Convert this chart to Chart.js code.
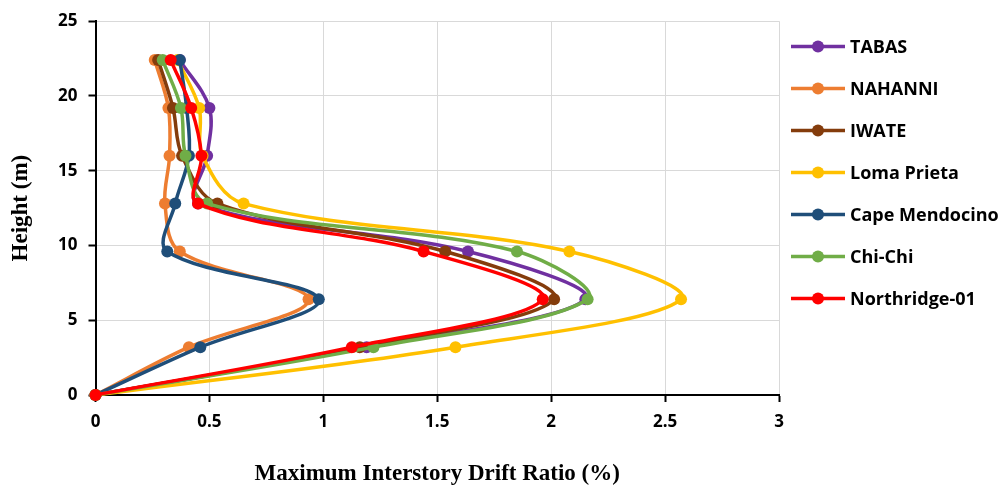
<!DOCTYPE html>
<html>
<head>
<meta charset="utf-8">
<script src="https://cdn.jsdelivr.net/npm/chart.js@4/dist/chart.umd.min.js"></script>
<style>
  html, body { margin: 0; padding: 0; background: #fff; }
  #wrap { width: 998px; height: 485px; }
</style>
</head>
<body>
<div id="wrap"><canvas id="c" width="998" height="485"></canvas></div>
<script>
// ---- data ----
const heights = [0, 3.2, 6.4, 9.6, 12.8, 16, 19.2, 22.4];
const seriesNames = ["TABAS", "NAHANNI", "IWATE", "Loma Prieta", "Cape Mendocino", "Chi-Chi", "Northridge-01"];
const tabas       = [0, 1.19, 2.15, 1.635, 0.45, 0.49, 0.50, 0.37];
const nahanni     = [0, 0.41, 0.935, 0.37, 0.305, 0.325, 0.32, 0.26];
const iwate       = [0, 1.16, 2.013, 1.535, 0.535, 0.38, 0.34, 0.275];
const lomaPrieta  = [0, 1.58, 2.57, 2.08, 0.65, 0.47, 0.455, 0.36];
const capeMendo   = [0, 0.46, 0.98, 0.315, 0.35, 0.41, 0.40, 0.37];
const chiChi      = [0, 1.22, 2.16, 1.85, 0.49, 0.395, 0.375, 0.295];
const northridge  = [0, 1.125, 1.963, 1.44, 0.45, 0.465, 0.42, 0.33];
const xTicks = [0, 0.5, 1, 1.5, 2, 2.5, 3];
const yTicks = [0, 5, 10, 15, 20, 25];

const seriesValues = [tabas, nahanni, iwate, lomaPrieta, capeMendo, chiChi, northridge];
const seriesColors = ["#7030A0", "#ED7D31", "#843C0C", "#FFC000", "#1F4E79", "#70AD47", "#FF0000"];

const datasets = seriesNames.map((name, i) => ({
  label: name,
  data: seriesValues[i].map((v, k) => ({ x: v, y: heights[k] })),
  borderColor: seriesColors[i],
  backgroundColor: seriesColors[i],
  pointBackgroundColor: seriesColors[i],
  pointBorderColor: seriesColors[i],
  pointRadius: 6,
  pointBorderWidth: 0,
  borderWidth: 3.5,
  showLine: true,
  tension: 0.35,
  clip: false,
  order: seriesNames.length - 1 - i
}));

const tickFont = { family: "'Open Sans', sans-serif", size: 17, weight: 'bold' };
const titleFont = { family: "'Liberation Serif', 'Times New Roman', serif", size: 23, weight: 'bold', lineHeight: 1 };

const legendPlugin = {
  id: 'lineLegend',
  afterDraw(chart, args, opts) {
    const ctx = chart.ctx;
    ctx.save();
    chart.data.datasets.forEach((ds, i) => {
      const y = opts.top + i * opts.step;
      ctx.strokeStyle = ds.borderColor;
      ctx.lineWidth = 3.5;
      ctx.beginPath();
      ctx.moveTo(opts.lineX0, y);
      ctx.lineTo(opts.lineX1, y);
      ctx.stroke();
      ctx.fillStyle = ds.borderColor;
      ctx.beginPath();
      ctx.arc((opts.lineX0 + opts.lineX1) / 2, y, 6, 0, Math.PI * 2);
      ctx.fill();
      ctx.fillStyle = '#000';
      ctx.font = "bold 18px 'Open Sans', sans-serif";
      ctx.textBaseline = 'middle';
      ctx.textAlign = 'left';
      ctx.fillText(ds.label, opts.textX, y + 1);
    });
    ctx.restore();
  }
};

new Chart(document.getElementById('c'), {
  type: 'scatter',
  data: { datasets },
  plugins: [legendPlugin],
  options: {
    responsive: false,
    animation: false,
    devicePixelRatio: 1,
    layout: { padding: { left: 0, right: 219, top: 19, bottom: 0 } },
    plugins: {
      legend: { display: false },
      tooltip: { enabled: false },
      lineLegend: { top: 46.5, step: 42, lineX0: 791, lineX1: 845, textX: 850 }
    },
    scales: {
      x: {
        type: 'linear',
        min: 0, max: 3,
        afterBuildTicks: s => { s.ticks = xTicks.map(v => ({ value: v })); },
        afterFit: s => { s.height = 90; },
        ticks: { font: tickFont, color: '#000', padding: 10, maxRotation: 0,
                 callback: v => String(v) },
        grid: { color: '#d9d9d9', lineWidth: 1, tickColor: '#000', tickWidth: 2, tickLength: 7 },
        border: { color: '#000', width: 2 },
        title: { display: true, text: 'Maximum Interstory Drift Ratio (%)', color: '#000',
                 font: titleFont, padding: { top: 0, bottom: -0.5 } }
      },
      y: {
        type: 'linear',
        min: 0, max: 25,
        afterBuildTicks: s => { s.ticks = yTicks.map(v => ({ value: v })); },
        afterFit: s => { s.width = 95.5; },
        ticks: { font: tickFont, color: '#000', padding: 11 },
        grid: { color: '#d9d9d9', lineWidth: 1, tickColor: '#000', tickWidth: 2, tickLength: 7 },
        border: { color: '#000', width: 2 },
        title: { display: true, text: 'Height (m)', color: '#000',
                 font: titleFont, padding: { top: 9.5, bottom: 0 } }
      }
    }
  }
});
</script>
</body>
</html>
